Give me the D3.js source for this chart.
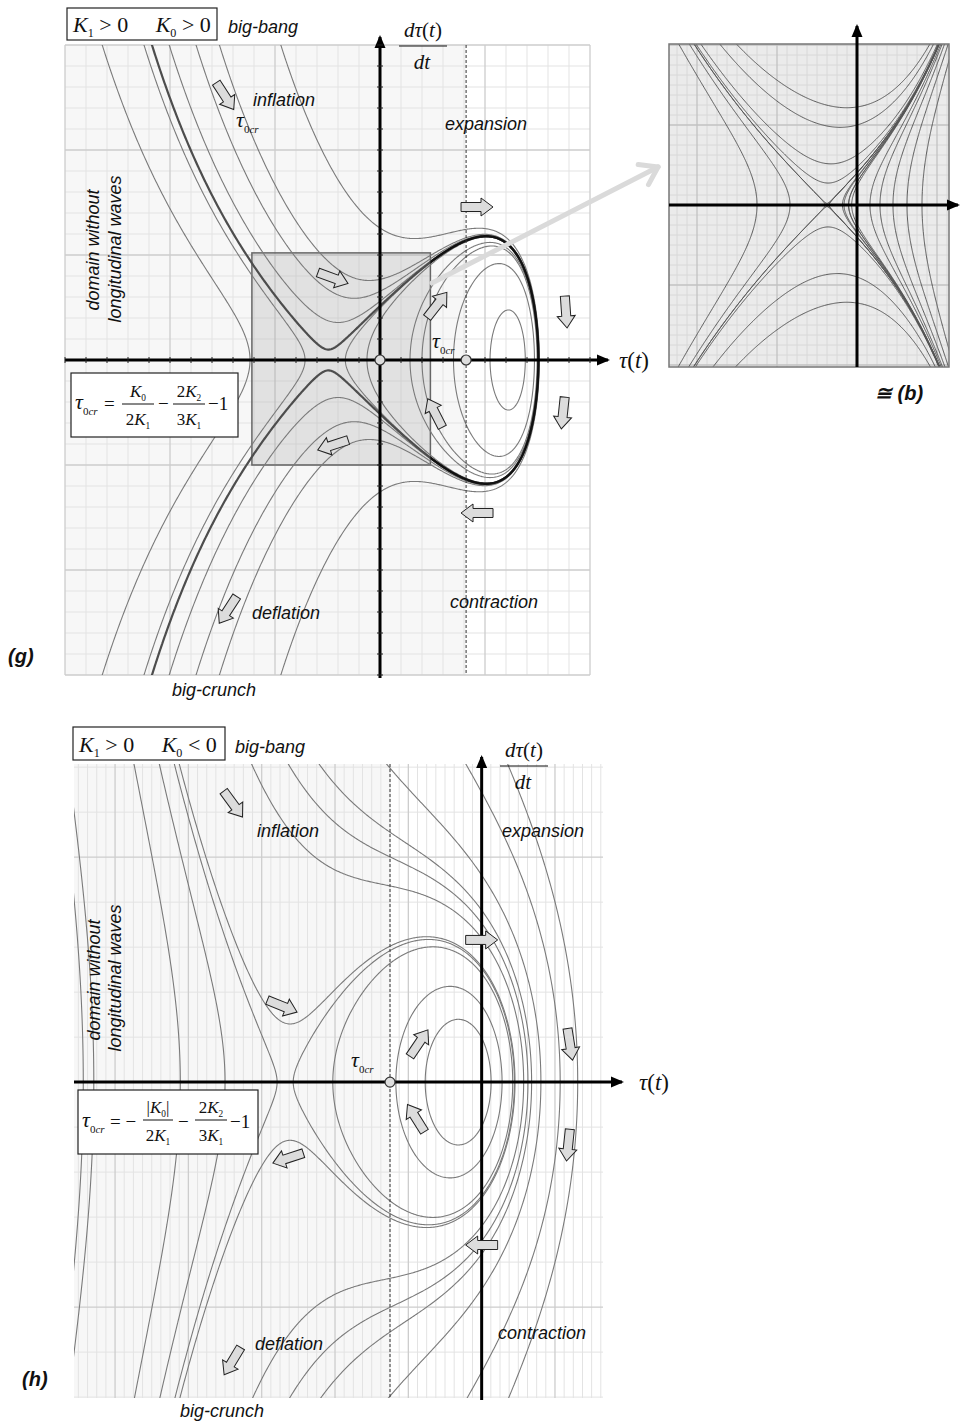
<!DOCTYPE html>
<html>
<head>
<meta charset="utf-8">
<script src="https://cdnjs.cloudflare.com/ajax/libs/d3/7.8.5/d3.min.js"></script>
<style>
  body { margin: 0; background: #fff; }
  .lbl { font-family: "Liberation Sans", Arial, sans-serif; font-style: italic; font-size: 18px; fill: #111; }
  .tag { font-family: "Liberation Sans", Arial, sans-serif; font-style: italic; font-weight: bold; font-size: 20px; fill: #111; }
  .math { font-family: "Liberation Serif", "Times New Roman", serif; fill: #111; }
</style>
</head>
<body>
<svg id="fig" width="960" height="1426"></svg>
<script>
// ---------------- data: panel (g)  K1 > 0, K0 > 0 ----------------
const gTau = [-3, 2];                 // tau(t) range
const gRate = [-3, 3];                // dtau/dt range
const gTau0cr = 0.82;
const gField = [-0.5, 1.25, 1.2, 3.15, 2.0];   // saddle, centre, k, mu, lambda
const gBox = [-1.22, 0.48, -1.0, 1.02];        // shaded zoom window
// one point for every drawn trajectory
const gOrbitSeeds = [[-0.33, 0], [-0.124, 0], [0.286, 0], [0.40, 0], [0.70, 0], [1.048, 0]];
const gBranchSeeds = [[-1.238, 0], [-0.714, 0]];
const gOpenSeeds = [[-0.45, 0.362], [-0.40, 0.62], [-0.35, 0.83], [0, 1.257]];
const gSeparatrixSeeds = [[-0.48, 0.1]];
const gArrows = [[-1.476, 2.514, 57], [0.924, 1.457, 0], [-0.448, 0.781, 20], [0.543, 0.524, -52],
  [1.771, 0.457, 86], [1.743, -0.505, 96], [0.524, -0.505, -117], [-0.448, -0.81, 162],
  [0.924, -1.457, 180], [-1.448, -2.38, 123]];

// ---------------- data: panel (h)  K1 > 0, K0 < 0 ----------------
const hTau = [-5.56, 1.655];
const hRate = [-7.02, 7.07];
const hTau0cr = -1.25;
const hField = [-2.68, -0.24, 4.23, 0.8, 0.8];
const hOrbitSeeds = [[-2.57, 0], [-2.03, 0], [-1.17, 0], [-0.77, 0]];
const hBranchSeeds = [[-5.29, 0], [-4.11, 0], [-3.5, 0], [-2.79, 0]];
const hOpenSeeds = [[-2.68, 1.31], [0, 3.2], [0, 3.53], [0, 3.82], [0, 4.6], [0, 6.44], [1.31, 0], [-5.5, 2.9]];
const hArrows = [[-3.39, 6.18, 54], [-2.72, 1.69, 22], [0, 3.16, 0], [1.205, 0.84, 81],
  [-0.855, 0.867, -56], [-0.896, -0.8, -122], [1.18, -1.4, 96], [-2.64, -1.69, 162],
  [0, -3.62, 180], [-3.4, -6.2, 121]];

// ---------------- data: inset, topologically like (b) ----------------
const bTau = [-4.7, 2.3];
const bRate = [-4.05, 4.025];
const bField = [-0.75, 0.6, 0.54, 1.0, 0.2];   // saddle, k, alpha, gamma, lambda
const bSeeds = [[0, 2.45], [0, 2.0], [0, 1.25], [0, 0.95], [0, 0.7], [0, 0.575], [0, 0.475],
  [0, -0.575], [0, -0.675], [0, -0.8], [0, -0.95], [0, -1.8], [0, -2.45],
  [-2.5, 0], [-1.675, 0], [0.325, 0], [0.575, 0], [0.9, 0], [1.25, 0], [1.625, 0],
  [-0.75, 0.04], [-0.75, -0.04], [-0.79, 0], [-0.71, 0]];

// ---------------- helpers ----------------
const svg = d3.select("#fig");
const defs = svg.append("defs");
const NB = "\u00a0";

// first integral  H = exp(lambda x) y^2 / 2 + V(x),  V' given
function makeField(dV, xs, lam) {
  const V = x => {
    const n = 300, h = (x - xs) / n;
    if (h === 0) return 0;
    let s = dV(xs) + dV(x);
    for (let i = 1; i < n; i++) s += (i % 2 ? 4 : 2) * dV(xs + i * h);
    return s * h / 3;
  };
  return { V, lam, H: (x, y) => Math.exp(lam * x) * y * y / 2 + V(x) };
}

function makeGrid(f, xDom, yDom, nx, ny) {
  const px = 0.06 * (xDom[1] - xDom[0]), py = 0.06 * (yDom[1] - yDom[0]);
  const x0 = xDom[0] - px, y0 = yDom[1] + py;
  const dx = (xDom[1] - xDom[0] + 2 * px) / (nx - 1);
  const dy = (yDom[1] - yDom[0] + 2 * py) / (ny - 1);
  const values = new Float64Array(nx * ny);
  for (let i = 0; i < nx; i++) {
    const x = x0 + i * dx, v = f.V(x), m = Math.exp(f.lam * x);
    for (let j = 0; j < ny; j++) {
      const y = y0 - j * dy;
      values[j * nx + i] = m * y * y / 2 + v;
    }
  }
  return { values, nx, ny, x0, y0, dx, dy };
}

// cut a contour ring into the runs that lie inside the visible rectangle
function visiblePieces(pts, r) {
  const n = pts.length - 1;
  const ok = p => p[0] > r[0] - 4 && p[0] < r[1] + 4 && p[1] > r[2] - 4 && p[1] < r[3] + 4;
  const s = pts.findIndex(p => !ok(p));
  if (s < 0) return [pts];
  const pieces = [];
  let cur = null;
  for (let i = 0; i <= n; i++) {
    const p = pts[(s + i) % n];
    if (ok(p)) {
      if (!cur) cur = [pts[(s + i - 1 + n) % n]];
      cur.push(p);
    } else if (cur) {
      cur.push(p); pieces.push(cur); cur = null;
    }
  }
  return pieces;
}

// the level curve through a seed point, only the branch that passes near it
function trajectory(f, grid, seed, x, y, r) {
  const level = f.H(seed[0], seed[1]);
  const c = d3.contours().size([grid.nx, grid.ny]).thresholds([level])(grid.values)[0];
  const sp = [x(seed[0]), y(seed[1])];
  let best = null, bestD = Infinity;
  c.coordinates.forEach(poly => poly.forEach(ring => {
    const pts = ring.map(([gx, gy]) => [x(grid.x0 + (gx - 0.5) * grid.dx), y(grid.y0 - (gy - 0.5) * grid.dy)]);
    visiblePieces(pts, r).forEach(piece => {
      const d = d3.min(piece, p => Math.hypot(p[0] - sp[0], p[1] - sp[1]));
      if (d < bestD) { bestD = d; best = piece; }
    });
  }));
  return best;
}

function drawGrid(g, x, y, xMinor, xMajor, yMinor, yMajor, cMinor, cMajor) {
  const ticks = (d, step) => d3.range(Math.ceil(d[0] / step - 1e-9), Math.floor(d[1] / step + 1e-9) + 1).map(i => i * step);
  const major = (v, M) => Math.abs(v / M - Math.round(v / M)) < 1e-6;
  const [x0, x1] = x.range(), [y0, y1] = y.range();
  [false, true].forEach(isMaj => {
    ticks(x.domain(), xMinor).filter(v => major(v, xMajor) === isMaj).forEach(v => {
      g.append("line").attr("x1", x(v)).attr("x2", x(v)).attr("y1", y0).attr("y2", y1)
        .attr("stroke", isMaj ? cMajor : cMinor).attr("stroke-width", isMaj ? 1.3 : 1);
    });
    ticks(y.domain(), yMinor).filter(v => major(v, yMajor) === isMaj).forEach(v => {
      g.append("line").attr("x1", x0).attr("x2", x1).attr("y1", y(v)).attr("y2", y(v))
        .attr("stroke", isMaj ? cMajor : cMinor).attr("stroke-width", isMaj ? 1.3 : 1);
    });
  });
}

function axisArrow(g, x1, y1, x2, y2, w) {
  const a = Math.atan2(y2 - y1, x2 - x1) * 180 / Math.PI;
  g.append("line").attr("x1", x1).attr("y1", y1).attr("x2", x2).attr("y2", y2)
    .attr("stroke", "#000").attr("stroke-width", w);
  g.append("path").attr("d", "M2,0 L-11,-5.5 L-11,5.5 Z").attr("fill", "#000")
    .attr("transform", `translate(${x2},${y2}) rotate(${a})`);
}

function flowArrows(g, list, x, y) {
  g.selectAll(null).data(list).enter().append("path")
    .attr("d", "M-16,-4.5 L4,-4.5 L4,-9 L16,0 L4,9 L4,4.5 L-16,4.5 Z")
    .attr("fill", "#dcdcdc").attr("stroke", "#222").attr("stroke-width", 1)
    .attr("transform", d => `translate(${x(d[0])},${y(d[1])}) rotate(${d[2]})`);
}

function tauCr(g, x, yb, size) {
  const t = g.append("text").attr("class", "math").attr("x", x).attr("y", yb).attr("font-size", size);
  t.append("tspan").attr("font-style", "italic").text("τ");
  t.append("tspan").attr("font-size", size * 0.5).attr("dy", size * 0.25).text("0");
  t.append("tspan").attr("font-size", size * 0.5).attr("font-style", "italic").text("cr");
}

// K with a subscript; "after" is written back on the baseline
function kSym(t, sub, size, after) {
  t.append("tspan").attr("font-style", "italic").text("K");
  t.append("tspan").attr("font-size", size * 0.55).attr("dy", size * 0.22).text(sub);
  if (after) t.append("tspan").attr("dy", -size * 0.22).text(after);
}

function mathText(g, x, yb, size, anchor) {
  return g.append("text").attr("class", "math").attr("x", x).attr("y", yb)
    .attr("font-size", size).attr("text-anchor", anchor || "start");
}

function derivLabel(g, cx, yLine) {
  const n = mathText(g, cx, yLine - 9, 21, "middle");
  n.append("tspan").attr("font-style", "italic").text("dτ");
  n.append("tspan").text("(");
  n.append("tspan").attr("font-style", "italic").text("t");
  n.append("tspan").text(")");
  g.append("line").attr("x1", cx - 24).attr("x2", cx + 24).attr("y1", yLine).attr("y2", yLine)
    .attr("stroke", "#111").attr("stroke-width", 1.2);
  mathText(g, cx - 1, yLine + 23, 21, "middle").attr("font-style", "italic").text("dt");
}

function tauLabel(g, x, yb) {
  const t = mathText(g, x, yb, 23);
  t.append("tspan").attr("font-style", "italic").text("τ");
  t.append("tspan").text("(");
  t.append("tspan").attr("font-style", "italic").text("t");
  t.append("tspan").text(")");
}

function signBox(g, x, y, w, h, k0rel) {
  g.append("rect").attr("x", x).attr("y", y).attr("width", w).attr("height", h)
    .attr("fill", "#fff").attr("stroke", "#222").attr("stroke-width", 1.2);
  const t = mathText(g, x + 6, y + h - 8, 22);
  kSym(t, "1", 22, NB + ">" + NB + "0" + NB + NB + NB + NB + NB);
  kSym(t, "0", 22, NB + k0rel + NB + "0");
}

function fraction(g, cx, yLine, halfW, num, den) {
  const a = mathText(g, cx, yLine - 7, 17, "middle");
  num(a);
  g.append("line").attr("x1", cx - halfW).attr("x2", cx + halfW).attr("y1", yLine).attr("y2", yLine)
    .attr("stroke", "#111").attr("stroke-width", 1);
  const b = mathText(g, cx, yLine + 21, 17, "middle");
  den(b);
}

function rotatedLabel(g, x, y, text) {
  g.append("text").attr("class", "lbl").attr("text-anchor", "middle")
    .attr("transform", `translate(${x},${y}) rotate(-90)`).text(text);
}

function label(g, x, y, text, cls) {
  g.append("text").attr("class", cls || "lbl").attr("x", x).attr("y", y).text(text);
}

// ---------------- panel (g) ----------------
{
  const x = d3.scaleLinear().domain(gTau).range([65, 590]);
  const y = d3.scaleLinear().domain(gRate).range([675, 45]);
  const r = [65, 590, 45, 675];
  const g = svg.append("g");
  defs.append("clipPath").attr("id", "clipG").append("rect")
    .attr("x", r[0]).attr("y", r[2]).attr("width", r[1] - r[0]).attr("height", r[3] - r[2]);
  defs.append("clipPath").attr("id", "clipGLoop").append("rect")
    .attr("x", x(gBox[1])).attr("y", r[2]).attr("width", r[1] - x(gBox[1])).attr("height", r[3] - r[2]);

  // background, tinted left of tau_0cr
  g.append("rect").attr("x", r[0]).attr("y", r[2]).attr("width", r[1] - r[0]).attr("height", r[3] - r[2]).attr("fill", "#fff");
  g.append("rect").attr("x", r[0]).attr("y", r[2]).attr("width", x(gTau0cr) - r[0]).attr("height", r[3] - r[2]).attr("fill", "#f7f7f7");
  drawGrid(g, x, y, 0.2, 1, 0.2, 1, "#e3e3e3", "#cdcdcd");

  // shaded window that is magnified on the right
  g.append("rect").attr("x", x(gBox[0])).attr("y", y(gBox[3])).attr("width", x(gBox[1]) - x(gBox[0]))
    .attr("height", y(gBox[2]) - y(gBox[3])).attr("fill", "rgba(150,150,150,0.22)")
    .attr("stroke", "#666").attr("stroke-width", 1.5);

  // trajectories
  const [xs, xc, k, mu, lam] = gField;
  const f = makeField(t => k * (t - xs) * (t - xc) * Math.exp(mu * t), xs, lam);
  const grid = makeGrid(f, gTau, gRate, 600, 720);
  const curves = g.append("g").attr("clip-path", "url(#clipG)").attr("fill", "none");
  const line = d3.line();
  [...gOrbitSeeds, ...gBranchSeeds, ...gOpenSeeds].forEach(s => {
    const p = trajectory(f, grid, s, x, y, r);
    if (p) curves.append("path").attr("d", line(p)).attr("stroke", "#7a7a7a").attr("stroke-width", 1.1);
  });
  gSeparatrixSeeds.forEach(s => {
    const p = trajectory(f, grid, s, x, y, r);
    if (!p) return;
    curves.append("path").attr("d", line(p)).attr("stroke", "#4d4d4d").attr("stroke-width", 2.2);
    g.append("path").attr("clip-path", "url(#clipGLoop)").attr("fill", "none")
      .attr("d", line(p)).attr("stroke", "#111").attr("stroke-width", 2.4);
  });

  // dashed tau_0cr line
  g.append("line").attr("x1", x(gTau0cr)).attr("x2", x(gTau0cr)).attr("y1", r[2]).attr("y2", r[3])
    .attr("stroke", "#333").attr("stroke-dasharray", "3,2").attr("stroke-width", 1);

  // axes with small ticks
  axisArrow(g, 65, y(0), 608, y(0), 3);
  axisArrow(g, x(0), 678, x(0), 37, 3);
  d3.range(-15, 11).forEach(i => g.append("line").attr("x1", x(i * 0.2)).attr("x2", x(i * 0.2))
    .attr("y1", y(0) - 3).attr("y2", y(0) + 3).attr("stroke", "#222"));
  d3.range(-15, 16).forEach(i => g.append("line").attr("y1", y(i * 0.2)).attr("y2", y(i * 0.2))
    .attr("x1", x(0) - 3).attr("x2", x(0) + 3).attr("stroke", "#222"));

  [0, gTau0cr].forEach(v => g.append("circle").attr("cx", x(v)).attr("cy", y(0)).attr("r", 5)
    .attr("fill", "#ddd").attr("stroke", "#333").attr("stroke-width", 1.2));

  flowArrows(g, gArrows, x, y);

  // pointer to the inset
  g.append("line").attr("x1", 432).attr("y1", 283).attr("x2", 658).attr("y2", 167)
    .attr("stroke", "#dadada").attr("stroke-width", 5).attr("stroke-linecap", "round");
  const ang = Math.atan2(167 - 283, 658 - 432);
  [0.6, -0.6].forEach(da => g.append("line").attr("x1", 658).attr("y1", 167)
    .attr("x2", 658 - 20 * Math.cos(ang + da)).attr("y2", 167 - 20 * Math.sin(ang + da))
    .attr("stroke", "#dadada").attr("stroke-width", 5).attr("stroke-linecap", "round"));

  // texts
  signBox(g, 67, 8, 150, 32, ">");
  label(g, 228, 33, "big-bang");
  derivLabel(g, 423, 46);
  label(g, 253, 106, "inflation");
  tauCr(g, 236, 127, 22);
  label(g, 445, 130, "expansion");
  rotatedLabel(g, 99, 250, "domain without");
  rotatedLabel(g, 121, 249, "longitudinal waves");
  tauCr(g, 432, 348, 22);
  tauLabel(g, 619, 368);
  label(g, 450, 608, "contraction");
  label(g, 252, 619, "deflation");
  label(g, 8, 663, "(g)", "tag");
  label(g, 172, 696, "big-crunch");

  // formula box
  g.append("rect").attr("x", 71).attr("y", 373).attr("width", 167).attr("height", 64)
    .attr("fill", "#fff").attr("stroke", "#222").attr("stroke-width", 1.2);
  tauCr(g, 75, 409, 22);
  mathText(g, 104, 410, 19).text("=");
  fraction(g, 138, 404, 16, t => kSym(t, "0", 17), t => { t.append("tspan").text("2"); kSym(t, "1", 17); });
  mathText(g, 158, 410, 19).text("−");
  fraction(g, 189, 404, 16, t => { t.append("tspan").text("2"); kSym(t, "2", 17); }, t => { t.append("tspan").text("3"); kSym(t, "1", 17); });
  mathText(g, 208, 410, 19).text("−1");
}

// ---------------- inset ----------------
{
  const x = d3.scaleLinear().domain(bTau).range([669, 949]);
  const y = d3.scaleLinear().domain(bRate).range([367, 44]);
  const r = [669, 949, 44, 367];
  const g = svg.append("g");
  defs.append("clipPath").attr("id", "clipB").append("rect")
    .attr("x", r[0]).attr("y", r[2]).attr("width", r[1] - r[0]).attr("height", r[3] - r[2]);
  g.append("rect").attr("x", r[0]).attr("y", r[2]).attr("width", r[1] - r[0]).attr("height", r[3] - r[2]).attr("fill", "#ebebeb");
  drawGrid(g, x, y, 0.25, 2, 0.25, 2, "#d8d8d8", "#c2c2c2");

  const [xs, k, alpha, gamma, lam] = bField;
  const f = makeField(t => -k * (t - xs) * (1 + alpha * Math.exp(gamma * (t - xs))), xs, lam);
  const grid = makeGrid(f, bTau, bRate, 340, 390);
  const curves = g.append("g").attr("clip-path", "url(#clipB)").attr("fill", "none");
  bSeeds.forEach(s => {
    const p = trajectory(f, grid, s, x, y, r);
    if (p) curves.append("path").attr("d", d3.line()(p)).attr("stroke", "#555").attr("stroke-width", 1);
  });
  g.append("rect").attr("x", r[0]).attr("y", r[2]).attr("width", r[1] - r[0]).attr("height", r[3] - r[2])
    .attr("fill", "none").attr("stroke", "#777").attr("stroke-width", 1.5);
  axisArrow(g, r[0], y(0), 958, y(0), 3);
  axisArrow(g, x(0), r[3], x(0), 26, 3);
  g.append("text").attr("class", "tag").attr("x", 875).attr("y", 400).attr("font-size", 19).text("≅ (b)");
}

// ---------------- panel (h) ----------------
{
  const x = d3.scaleLinear().domain(hTau).range([74, 603]);
  const y = d3.scaleLinear().domain(hRate).range([1398, 764]);
  const r = [74, 603, 764, 1398];
  const g = svg.append("g");
  defs.append("clipPath").attr("id", "clipH").append("rect")
    .attr("x", r[0]).attr("y", r[2]).attr("width", r[1] - r[0]).attr("height", r[3] - r[2]);
  g.append("rect").attr("x", r[0]).attr("y", r[2]).attr("width", r[1] - r[0]).attr("height", r[3] - r[2]).attr("fill", "#fff");
  g.append("rect").attr("x", r[0]).attr("y", r[2]).attr("width", x(hTau0cr) - r[0]).attr("height", r[3] - r[2]).attr("fill", "#f7f7f7");
  drawGrid(g, x, y, 0.125, 1, 1, 5, "#e3e3e3", "#cdcdcd");

  const [xs, xc, k, mu, lam] = hField;
  const f = makeField(t => k * (t - xs) * (t - xc) * Math.exp(mu * t), xs, lam);
  const grid = makeGrid(f, hTau, hRate, 600, 720);
  const curves = g.append("g").attr("clip-path", "url(#clipH)").attr("fill", "none");
  [...hOrbitSeeds, ...hBranchSeeds, ...hOpenSeeds].forEach(s => {
    const p = trajectory(f, grid, s, x, y, r);
    if (p) curves.append("path").attr("d", d3.line()(p)).attr("stroke", "#7a7a7a").attr("stroke-width", 1.1);
  });

  g.append("line").attr("x1", x(hTau0cr)).attr("x2", x(hTau0cr)).attr("y1", r[2]).attr("y2", r[3])
    .attr("stroke", "#333").attr("stroke-dasharray", "3,2").attr("stroke-width", 1);

  axisArrow(g, 74, y(0), 622, y(0), 3);
  axisArrow(g, x(0), 1400, x(0), 757, 3);
  g.append("circle").attr("cx", x(hTau0cr)).attr("cy", y(0)).attr("r", 5)
    .attr("fill", "#ddd").attr("stroke", "#333").attr("stroke-width", 1.2);

  flowArrows(g, hArrows, x, y);

  signBox(g, 73, 727, 152, 33, "<");
  label(g, 235, 753, "big-bang");
  derivLabel(g, 524, 766);
  label(g, 257, 837, "inflation");
  label(g, 502, 837, "expansion");
  rotatedLabel(g, 100, 980, "domain without");
  rotatedLabel(g, 121, 978, "longitudinal waves");
  tauCr(g, 351, 1067, 22);
  tauLabel(g, 639, 1090);
  label(g, 498, 1339, "contraction");
  label(g, 255, 1350, "deflation");
  label(g, 22, 1386, "(h)", "tag");
  label(g, 180, 1417, "big-crunch");

  g.append("rect").attr("x", 78).attr("y", 1090).attr("width", 180).attr("height", 64)
    .attr("fill", "#fff").attr("stroke", "#222").attr("stroke-width", 1.2);
  tauCr(g, 82, 1127, 22);
  mathText(g, 110, 1128, 19).text("=" + NB + "−");
  fraction(g, 158, 1120, 15, t => { t.append("tspan").text("|"); kSym(t, "0", 17, "|"); },
    t => { t.append("tspan").text("2"); kSym(t, "1", 17); });
  mathText(g, 178, 1128, 19).text("−");
  fraction(g, 211, 1120, 16, t => { t.append("tspan").text("2"); kSym(t, "2", 17); }, t => { t.append("tspan").text("3"); kSym(t, "1", 17); });
  mathText(g, 230, 1128, 19).text("−1");
}
</script>
</body>
</html>
